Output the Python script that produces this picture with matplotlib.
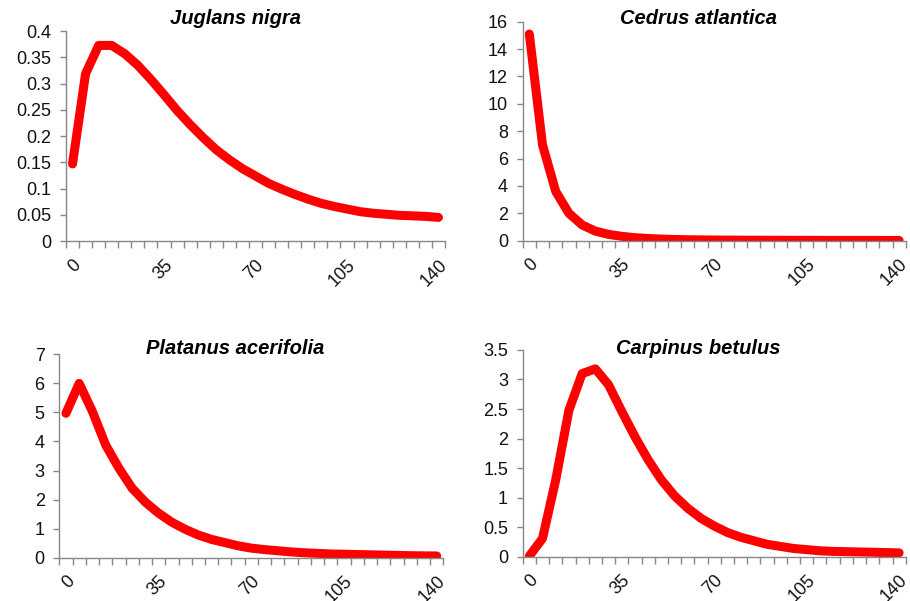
import matplotlib
matplotlib.use("Agg")
import matplotlib.pyplot as plt
from matplotlib.ticker import FuncFormatter, FixedLocator

# days, one category every 5
days = list(range(0, 145, 5))
tick_days = [0, 35, 70, 105, 140]

juglans = [0.147, 0.319, 0.373, 0.373, 0.357, 0.335, 0.308, 0.279, 0.249, 0.222,
           0.197, 0.174, 0.155, 0.138, 0.124, 0.110, 0.099, 0.089, 0.080, 0.072,
           0.066, 0.061, 0.056, 0.053, 0.051, 0.049, 0.048, 0.047, 0.045]
cedrus = [15.1, 7.0, 3.6, 2.0, 1.15, 0.7, 0.46, 0.32, 0.22, 0.16,
          0.12, 0.09, 0.07, 0.06, 0.05, 0.045, 0.04, 0.035, 0.033, 0.03,
          0.028, 0.026, 0.025, 0.024, 0.023, 0.022, 0.021, 0.02, 0.02]
platanus = [4.97, 6.0, 5.03, 3.88, 3.08, 2.39, 1.91, 1.53, 1.22, 0.98,
            0.78, 0.63, 0.52, 0.41, 0.33, 0.28, 0.24, 0.20, 0.17, 0.15,
            0.13, 0.12, 0.11, 0.10, 0.09, 0.08, 0.07, 0.065, 0.06]
carpinus = [0.01, 0.31, 1.3, 2.48, 3.1, 3.18, 2.91, 2.46, 2.03, 1.64,
            1.30, 1.03, 0.82, 0.65, 0.52, 0.41, 0.33, 0.27, 0.21, 0.175,
            0.14, 0.12, 0.10, 0.09, 0.085, 0.08, 0.075, 0.07, 0.065]

titles = ["Juglans nigra", "Cedrus atlantica", "Platanus acerifolia", "Carpinus betulus"]
series = [juglans, cedrus, platanus, carpinus]
ymax = [0.4, 16, 7, 3.5]
ystep = [0.05, 2, 1, 0.5]

plt.rcParams['font.family'] = ['Liberation Sans', 'DejaVu Sans']

fig = plt.figure(figsize=(9.1, 6.01), dpi=100)
boxes = [
    [0.0725, 0.599, 0.4165, 0.349],
    [0.5744, 0.5995, 0.4209, 0.3644],
    [0.0652, 0.072, 0.422, 0.3385],
    [0.5744, 0.0737, 0.4209, 0.344],
]
title_pos = [(235 / 910, 1 - 19 / 601), (698 / 910, 1 - 19 / 601),
             (235 / 910, 1 - 348 / 601), (698 / 910, 1 - 348 / 601)]

pos = list(range(len(days)))
for k in range(4):
    ax = fig.add_axes(boxes[k])
    ax.plot(pos, series[k], color='#ff0000', lw=6.5, solid_capstyle='round',
            solid_joinstyle='round')
    ax.set_xlim(-0.5, len(days) - 0.5)
    ax.set_ylim(0, ymax[k])
    n = int(round(ymax[k] / ystep[k]))
    ax.set_yticks([i * ystep[k] for i in range(n + 1)])
    ax.yaxis.set_major_formatter(FuncFormatter(lambda v, p: ('%g' % round(v, 3))))
    ax.set_xticks([days.index(d) for d in tick_days])
    ax.set_xticklabels([str(d) for d in tick_days], rotation=45, ha='right',
                       va='top', rotation_mode='anchor')
    ax.xaxis.set_minor_locator(FixedLocator([i - 0.5 for i in range(len(days) + 1)]))
    ax.tick_params(axis='x', which='major', length=0, pad=11, labelsize=13,
                   labelcolor='#111111')
    ax.tick_params(axis='x', which='minor', length=5, color='#888888', width=1)
    ax.tick_params(axis='y', length=4.5, color='#888888', width=1, labelsize=13,
                   pad=6, labelcolor='#111111')
    for s in ['top', 'right']:
        ax.spines[s].set_visible(False)
    for s in ['left', 'bottom']:
        ax.spines[s].set_color('#888888')
        ax.spines[s].set_linewidth(1)
    fig.text(title_pos[k][0], title_pos[k][1], titles[k], ha='center', va='center',
             fontsize=14.5, fontweight='bold', fontstyle='italic')

fig.savefig('out.png', dpi=100)
